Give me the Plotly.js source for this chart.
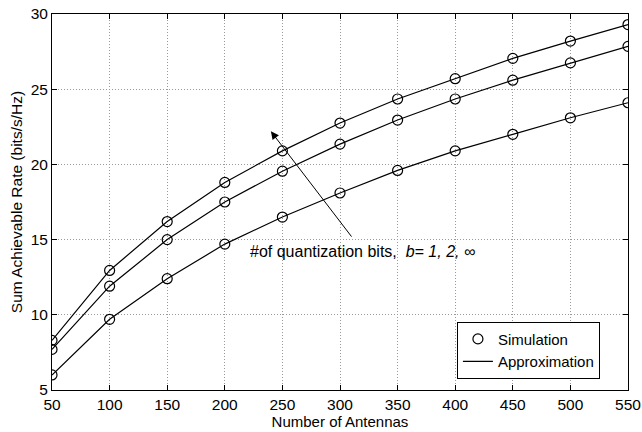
<!DOCTYPE html>
<html>
<head>
<meta charset="utf-8">
<script src="https://cdn.plot.ly/plotly-3.0.1.min.js"></script>
<style>html,body{margin:0;padding:0;background:#fff;}#chart{width:642px;height:432px;}</style>
</head>
<body>
<div id="chart"></div>
<script>
const antennas = [50, 100, 150, 200, 250, 300, 350, 400, 450, 500, 550];
const rateB1 = [6.0, 9.7, 12.4, 14.7, 16.5, 18.1, 19.6, 20.9, 22.0, 23.1, 24.1];
const rateB2 = [7.7, 11.9, 15.0, 17.5, 19.55, 21.35, 22.95, 24.35, 25.6, 26.75, 27.85];
const rateBinf = [8.3, 12.95, 16.2, 18.8, 20.9, 22.75, 24.35, 25.7, 27.05, 28.2, 29.3];
const xTicks = [50, 100, 150, 200, 250, 300, 350, 400, 450, 500, 550];
const yTicks = [5, 10, 15, 20, 25, 30];

const series = [rateB1, rateB2, rateBinf];
const traces = [];
series.forEach((s, i) => {
  traces.push({x: antennas, y: s, type: 'scatter', mode: 'lines',
    line: {color: '#000', width: 1.2}, name: 'Approximation',
    showlegend: i === 0, legendrank: 2, hoverinfo: 'skip'});
});
series.forEach((s, i) => {
  traces.push({x: antennas, y: s, type: 'scatter', mode: 'markers',
    marker: {symbol: 'circle-open', size: 10, color: '#000', line: {width: 1.2, color: '#000'}},
    name: 'Simulation', showlegend: i === 0, legendrank: 1, hoverinfo: 'skip'});
});

const font = "Liberation Sans, Arial, Helvetica, sans-serif";
const axisCommon = {
  showline: true, linecolor: '#000', linewidth: 1, mirror: 'ticks',
  ticks: 'inside', ticklen: 5, tickcolor: '#000',
  showgrid: true, gridcolor: '#9a9a9a', griddash: '1px,2px', gridwidth: 1,
  zeroline: false, tickfont: {size: 15.5}
};
const layout = {
  width: 642, height: 432,
  margin: {l: 52, r: 14, t: 14, b: 42},
  paper_bgcolor: '#fff', plot_bgcolor: '#fff',
  font: {family: font, size: 15, color: '#000'},
  showlegend: true,
  legend: {x: 0.703, y: 0.106, xanchor: 'left', yanchor: 'middle',
    bordercolor: '#000', borderwidth: 1, bgcolor: '#fff',
    font: {family: font, size: 15}, tracegroupgap: 0, itemwidth: 30},
  xaxis: Object.assign({}, axisCommon, {range: [50, 550], tickvals: xTicks, ticktext: xTicks.map(String),
    title: {text: 'Number of Antennas', font: {size: 15}, standoff: 0}}),
  yaxis: Object.assign({}, axisCommon, {range: [5, 30], tickvals: yTicks, ticktext: yTicks.map(String),
    title: {text: 'Sum Achievable Rate (bits/s/Hz)', font: {size: 15.5}, standoff: 4}}),
  annotations: [
    {x: 240, y: 22.2, xref: 'x', yref: 'y', ax: 311, ay: 15.1, axref: 'x', ayref: 'y',
     showarrow: true, arrowhead: 2, arrowsize: 1.6, arrowwidth: 1, arrowcolor: '#000', text: ''},
    {x: 220, y: 14.2, xref: 'x', yref: 'y', xanchor: 'left', yanchor: 'middle', showarrow: false,
     text: '#of quantization bits,&nbsp;&nbsp;<i>b= 1, 2, ∞</i>', font: {family: font, size: 16, color: '#000'}}
  ]
};
Plotly.newPlot('chart', traces, layout, {displayModeBar: false, staticPlot: true});
</script>
</body>
</html>
